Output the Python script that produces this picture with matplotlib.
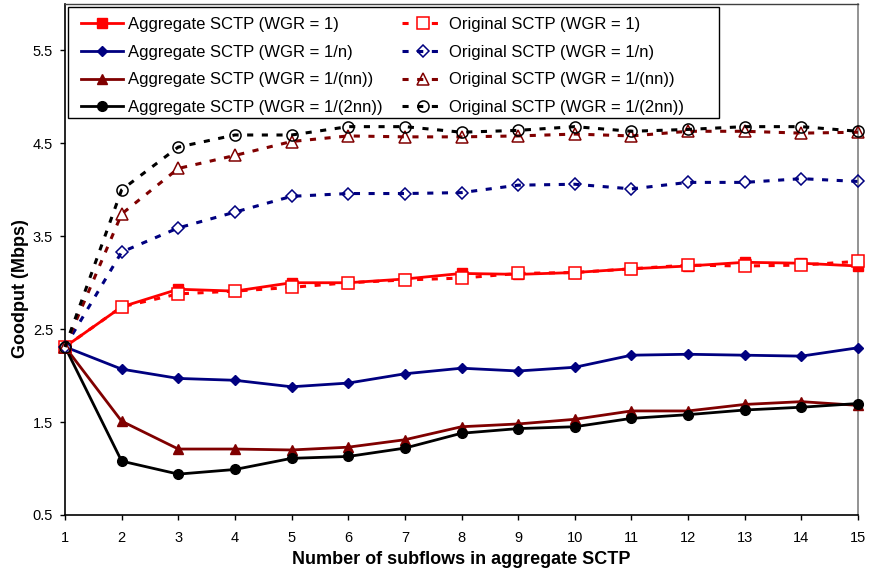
import matplotlib
matplotlib.use("Agg")
import matplotlib.pyplot as plt
from matplotlib.patches import Rectangle

plt.rcParams['font.family'] = ['Liberation Sans', 'DejaVu Sans']

subflows = list(range(1, 16))

agg_wgr1 = [2.31, 2.74, 2.93, 2.91, 3.00, 3.00, 3.04, 3.10, 3.09, 3.11, 3.15, 3.18, 3.22, 3.21, 3.18]
agg_wgr_n = [2.31, 2.07, 1.97, 1.95, 1.88, 1.92, 2.02, 2.08, 2.05, 2.09, 2.22, 2.23, 2.22, 2.21, 2.30]
agg_wgr_nn = [2.31, 1.51, 1.21, 1.21, 1.20, 1.23, 1.31, 1.45, 1.48, 1.53, 1.62, 1.62, 1.69, 1.72, 1.68]
agg_wgr_2nn = [2.31, 1.08, 0.94, 0.99, 1.11, 1.13, 1.22, 1.38, 1.43, 1.45, 1.54, 1.58, 1.63, 1.66, 1.70]

orig_wgr1 = [2.31, 2.74, 2.88, 2.91, 2.95, 3.00, 3.03, 3.05, 3.10, 3.11, 3.15, 3.19, 3.18, 3.19, 3.23]
orig_wgr_n = [2.31, 3.33, 3.59, 3.76, 3.93, 3.96, 3.96, 3.97, 4.05, 4.06, 4.01, 4.08, 4.08, 4.12, 4.09]
orig_wgr_nn = [2.31, 3.74, 4.23, 4.37, 4.52, 4.58, 4.57, 4.57, 4.58, 4.60, 4.58, 4.63, 4.63, 4.61, 4.62]
orig_wgr_2nn = [2.31, 4.00, 4.46, 4.59, 4.59, 4.68, 4.68, 4.62, 4.64, 4.68, 4.63, 4.65, 4.68, 4.68, 4.63]

labels_agg = ["Aggregate SCTP (WGR = 1)", "Aggregate SCTP (WGR = 1/n)",
              "Aggregate SCTP (WGR = 1/(nn))", "Aggregate SCTP (WGR = 1/(2nn))"]
labels_orig = ["Original SCTP (WGR = 1)", "Original SCTP (WGR = 1/n)",
               "Original SCTP (WGR = 1/(nn))", "Original SCTP (WGR = 1/(2nn))"]

y_ticks = [0.5, 1.5, 2.5, 3.5, 4.5, 5.5]

colors = ["#ff0000", "#000080", "#800000", "#000000"]
markers = ["s", "D", "^", "o"]
msizes = [7, 5.5, 7, 7]

W, H = 869, 577
fig = plt.figure(figsize=(W / 100, H / 100), dpi=100)
ax = fig.add_axes([65 / W, 1 - 515 / H, (858 - 65) / W, (515 - 4) / H])

agg = [agg_wgr1, agg_wgr_n, agg_wgr_nn, agg_wgr_2nn]
orig = [orig_wgr1, orig_wgr_n, orig_wgr_nn, orig_wgr_2nn]

dash = (0, (2.0, 2.8))
agg_handles = []
orig_handles = []
for vals, c, m, ms, lab in zip(agg, colors, markers, msizes, labels_agg):
    h, = ax.plot(subflows, vals, color=c, lw=2, marker=m, ms=ms,
                 markerfacecolor=c, markeredgecolor=c, label=lab, zorder=3,
                 clip_on=False)
    agg_handles.append(h)
for vals, c, m, ms, lab in zip(orig, colors, markers, msizes, labels_orig):
    face = "white" if m == "s" else "none"
    h, = ax.plot(subflows, vals, color=c, lw=2.2, linestyle=dash, marker=m,
                 ms=ms + 1, markerfacecolor=face, markeredgecolor=c,
                 markeredgewidth=1.1, label=lab, zorder=4, clip_on=False)
    orig_handles.append(h)

ax.set_xlim(1, 15)
ax.set_ylim(0.5, 6.0)
ax.set_xticks(subflows)
ax.set_yticks(y_ticks)
ax.set_yticklabels([f"{v:.1f}" for v in y_ticks])
ax.tick_params(axis="both", direction="out", length=3.6, width=1,
               labelsize=10.5, color="black")
ax.tick_params(axis="x", pad=8)
ax.tick_params(axis="y", pad=5)
for s in ["left", "bottom"]:
    ax.spines[s].set_color("black")
    ax.spines[s].set_linewidth(1.2)
ax.spines["top"].set_color("#404040")
ax.spines["right"].set_color("#808080")
ax.spines["top"].set_linewidth(1)
ax.spines["right"].set_linewidth(1.2)

ax.set_xlabel("Number of subflows in aggregate SCTP", fontsize=13,
              fontweight="bold", labelpad=4)
ax.set_ylabel("Goodput (Mbps)", fontsize=13, fontweight="bold")
ax.yaxis.set_label_coords(21 / W, 0.5, transform=fig.transFigure)
ax.yaxis.label.set_verticalalignment("center")

# legend frame drawn separately, legend entries placed inside it
ax.add_patch(Rectangle((68 / W, 1 - 118 / H), (719 - 68) / W, (118 - 7) / H,
                       transform=fig.transFigure, facecolor="white",
                       edgecolor="black", linewidth=1, zorder=9, clip_on=False))
leg = ax.legend(handles=agg_handles + orig_handles, ncol=2, loc="upper left",
                bbox_to_anchor=(81 / W, 1 - 17 / H), bbox_transform=fig.transFigure,
                borderaxespad=0, borderpad=0, fontsize=12, frameon=False,
                handlelength=2.5, handletextpad=0.3, columnspacing=1.2,
                labelspacing=0.76)
leg.set_zorder(10)

fig.savefig("out.png", dpi=100)
